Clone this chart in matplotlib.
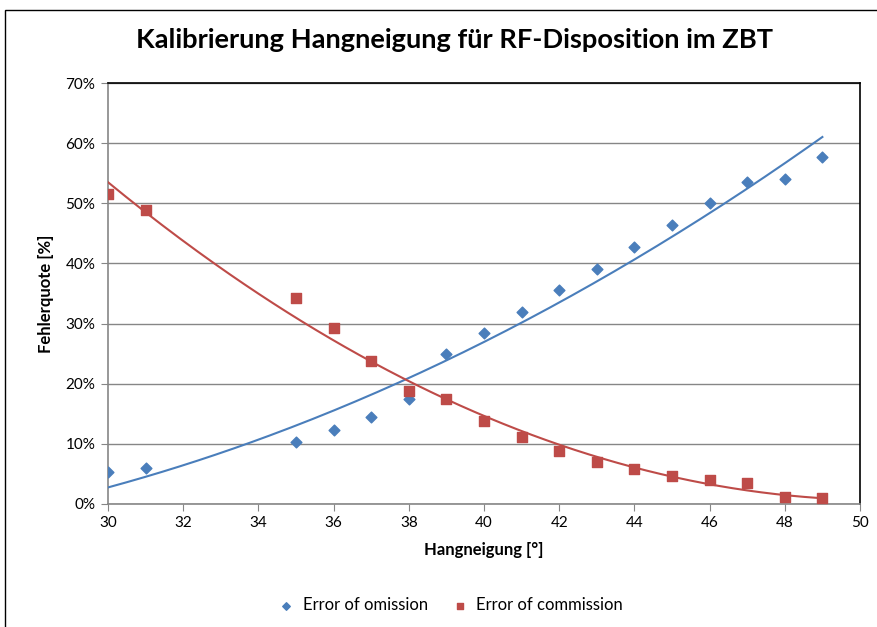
import numpy as np
import matplotlib.pyplot as plt
from matplotlib.patches import Rectangle
from matplotlib.ticker import PercentFormatter

# Fehlerquoten je Hangneigung (in %)
neigung = [30, 31, 35, 36, 37, 38, 39, 40, 41, 42, 43, 44, 45, 46, 47, 48, 49]
omission = [5.4, 6.0, 10.3, 12.3, 14.5, 17.4, 24.9, 28.4, 31.9, 35.5,
            39.1, 42.7, 46.4, 50.0, 53.5, 54.0, 57.7]
commission = [51.5, 48.9, 34.3, 29.2, 23.8, 18.8, 17.4, 13.8, 11.1, 8.8,
              7.0, 5.8, 4.7, 4.0, 3.5, 1.2, 1.0]

blau = '#4a7ebb'
rot = '#be4b48'

plt.rcParams['font.family'] = ['Lato', 'DejaVu Sans']

fig = plt.figure(figsize=(8.77, 6.27), dpi=100)
ax = fig.add_axes([0.1231, 0.1962, 0.8575, 0.6714])

# Rahmen um das Diagramm
fig.patches.append(Rectangle((5 / 877, -0.1), 1.2, 1 - 10 / 627 + 0.1,
                             transform=fig.transFigure, fill=False,
                             edgecolor='black', linewidth=1.0))

# Polynomische Trendlinien (2. Ordnung)
xs = np.linspace(min(neigung), max(neigung), 200)
for werte, farbe in [(omission, blau), (commission, rot)]:
    koeff = np.polyfit(neigung, werte, 2)
    ax.plot(xs, np.polyval(koeff, xs), color=farbe, linewidth=1.5, zorder=3)

ax.scatter(neigung, omission, marker='D', s=30, color=blau,
           label='Error of omission', zorder=4)
ax.scatter(neigung, commission, marker='s', s=45, color=rot,
           label='Error of commission', zorder=4)

ax.set_xlim(30, 50)
ax.set_ylim(0, 70)
ax.set_xticks(range(30, 51, 2))
ax.set_yticks(range(0, 71, 10))
ax.yaxis.set_major_formatter(PercentFormatter(decimals=0))
ax.grid(axis='y', color='#868686', linewidth=1.0)
ax.set_axisbelow(True)

for s in ['left', 'bottom']:
    ax.spines[s].set_color('#868686')
for s in ['top', 'right']:
    ax.spines[s].set_color('black')
for s in ax.spines.values():
    s.set_linewidth(1.2)
ax.tick_params(direction='out', length=5, color='#868686', labelsize=11, pad=4)

ax.set_xlabel('Hangneigung [°]', fontsize=12, fontweight='bold', labelpad=8)
ax.set_ylabel('Fehlerquote [%]', fontsize=12, fontweight='bold', labelpad=8)
fig.suptitle('Kalibrierung Hangneigung für RF-Disposition im ZBT',
             fontsize=19.6, fontweight='bold', x=0.518, y=0.955)

fig.legend(loc='center', bbox_to_anchor=(0.509, 0.035), ncol=2, frameon=False,
           fontsize=12, handletextpad=0.0, columnspacing=0.9,
           markerscale=0.7)

fig.savefig('out.png', dpi=100)
